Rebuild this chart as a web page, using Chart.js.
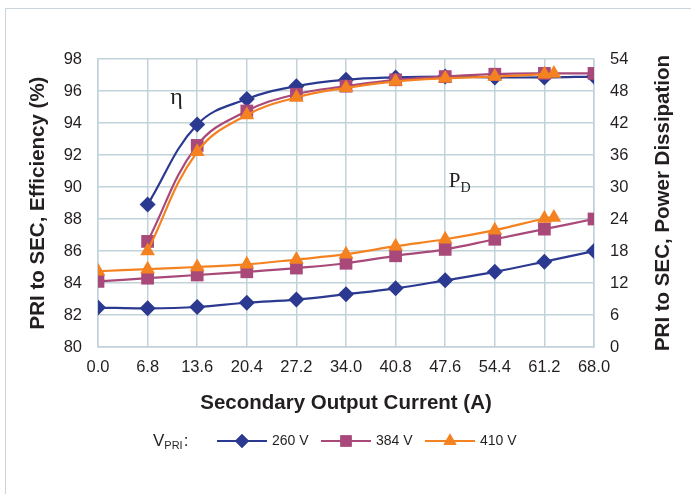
<!DOCTYPE html>
<html>
<head>
<meta charset="utf-8">
<script src="https://cdn.jsdelivr.net/npm/chart.js@4/dist/chart.umd.min.js"></script>
<style>
  html, body { margin: 0; padding: 0; background: #fff; }
  #wrap { position: relative; width: 691px; height: 494px; }
</style>
</head>
<body>
<div id="wrap"><canvas id="chart" width="691" height="494"></canvas></div>
<script>
// --- data ---
const xTicks = [0, 6.8, 13.6, 20.4, 27.2, 34.0, 40.8, 47.6, 54.4, 61.2, 68.0];
const effTicks = [80, 82, 84, 86, 88, 90, 92, 94, 96, 98];
const pdTicks = [0, 6, 12, 18, 24, 30, 36, 42, 48, 54];

const current = [0, 6.8, 13.6, 20.4, 27.2, 34.0, 40.8, 47.6, 54.4, 61.2, 68.0];
const current410 = [0, 6.8, 13.6, 20.4, 27.2, 34.0, 40.8, 47.6, 54.4, 61.2, 62.5];

// efficiency (%), left axis
const eff260 = [null, 88.9, 93.9, 95.5, 96.3, 96.7, 96.85, 96.9, 96.85, 96.85, 96.9];
const eff384 = [null, 86.6, 92.6, 94.75, 95.8, 96.3, 96.7, 96.9, 97.05, 97.1, 97.1];
const eff410 = [null, 86.0, 92.2, 94.5, 95.6, 96.2, 96.6, 96.8, 96.9, 97.05, 97.1];

// power dissipation (W), right axis
const pd260 = [7.4, 7.25, 7.5, 8.3, 8.9, 9.9, 11.0, 12.5, 14.1, 16.0, 18.0];
const pd384 = [12.3, 12.9, 13.5, 14.1, 14.8, 15.7, 17.1, 18.3, 20.2, 22.1, 24.0];
const pd410 = [14.2, 14.6, 15.0, 15.5, 16.4, 17.4, 18.9, 20.2, 21.9, 24.1, 24.3];

const seriesNames = ['260 V', '384 V', '410 V'];

// --- styling ---
const colors = ['#2b3990', '#a8497a', '#f58220'];
const markers = ['rectRot', 'rect', 'triangle'];
const markerRadius = [8, 9, 8.5];
const gridColor = '#c2d2d9';
const textColor = '#231f20';
const sans = '"Liberation Sans", Arial, sans-serif';
const serif = '"Liberation Serif", "Times New Roman", serif';

const toPoints = (xs, ys) => xs.map((x, i) => ({ x: x, y: ys[i] })).filter(p => p.y !== null);

const makeSet = (idx, xs, ys, axis) => ({
    label: seriesNames[idx],
    data: toPoints(xs, ys),
    yAxisID: axis,
    borderColor: colors[idx],
    backgroundColor: colors[idx],
    borderWidth: 2.2,
    tension: 0.4,
    pointStyle: markers[idx],
    pointRadius: markerRadius[idx],
    pointBorderWidth: 0,
    pointBackgroundColor: colors[idx],
    order: 2 - idx
});

const datasets = [
    makeSet(0, current, eff260, 'y'),
    makeSet(1, current, eff384, 'y'),
    makeSet(2, current410, eff410, 'y'),
    makeSet(0, current, pd260, 'y2'),
    makeSet(1, current, pd384, 'y2'),
    makeSet(2, current410, pd410, 'y2')
];

// extra drawing: outer frame, right axis title, annotations, legend
const extras = {
    id: 'extras',
    beforeDraw(chart) {
        const ctx = chart.ctx;
        ctx.save();
        ctx.strokeStyle = '#c9d4dc';
        ctx.lineWidth = 1;
        ctx.beginPath();
        ctx.moveTo(5.5, 494);
        ctx.lineTo(5.5, 8.5);
        ctx.lineTo(691, 8.5);
        ctx.stroke();
        ctx.restore();
    },
    afterDraw(chart) {
        const ctx = chart.ctx;
        const area = chart.chartArea;
        const xs = chart.scales.x, ys = chart.scales.y;
        ctx.save();

        // right axis title, reads bottom to top
        ctx.fillStyle = textColor;
        ctx.font = 'bold 20.5px ' + sans;
        ctx.textAlign = 'center';
        ctx.textBaseline = 'middle';
        ctx.translate(663, (area.top + area.bottom) / 2);
        ctx.rotate(-Math.PI / 2);
        ctx.fillText('PRI to SEC, Power Dissipation', 0, 0);
        ctx.setTransform(1, 0, 0, 1, 0, 0);

        // curve labels
        ctx.textAlign = 'left';
        ctx.textBaseline = 'alphabetic';
        ctx.font = '24px ' + serif;
        ctx.fillText('\u03b7', xs.getPixelForValue(9.9), ys.getPixelForValue(95.2));
        const px = xs.getPixelForValue(48.1), py = ys.getPixelForValue(90.0);
        ctx.font = '21px ' + serif;
        ctx.fillText('P', px, py);
        const pw = ctx.measureText('P').width;
        ctx.font = '14px ' + serif;
        ctx.fillText('D', px + pw, py + 5);

        // legend
        const ly = 441;
        ctx.textBaseline = 'middle';
        ctx.font = '17px ' + sans;
        ctx.fillText('V', 153, ly);
        const vw = ctx.measureText('V').width;
        ctx.font = '11px ' + sans;
        ctx.fillText('PRI', 153 + vw, ly + 5);
        const sw = ctx.measureText('PRI').width;
        ctx.font = '17px ' + sans;
        ctx.fillText(':', 153 + vw + sw + 1, ly);

        const starts = [217, 321, 425];
        seriesNames.forEach((name, i) => {
            const x0 = starts[i];
            ctx.strokeStyle = colors[i];
            ctx.lineWidth = 2.2;
            ctx.beginPath();
            ctx.moveTo(x0, ly);
            ctx.lineTo(x0 + 50, ly);
            ctx.stroke();
            ctx.fillStyle = colors[i];
            Chart.helpers.drawPoint(ctx, {
                pointStyle: markers[i],
                radius: markerRadius[i] - 1,
                borderWidth: 0,
                rotation: 0
            }, x0 + 25, ly);
            ctx.fill();
            ctx.fillStyle = textColor;
            ctx.font = '14px ' + sans;
            ctx.fillText(name, x0 + 55, ly);
        });
        ctx.restore();
    }
};

const tickFont = { family: sans, size: 16.5 };
const titleFont = { family: sans, size: 20.5, weight: 'bold' };

new Chart(document.getElementById('chart').getContext('2d'), {
    type: 'line',
    data: { datasets: datasets },
    options: {
        responsive: false,
        animation: false,
        devicePixelRatio: 1,
        layout: { padding: { left: 21.7, right: 9, top: 59, bottom: 74.7 } },
        plugins: { legend: { display: false }, tooltip: { enabled: false } },
        scales: {
            x: {
                type: 'linear',
                min: 0,
                max: 68,
                afterBuildTicks: s => { s.ticks = xTicks.map(v => ({ value: v })); },
                afterFit: s => { s.height = 72.3; },
                ticks: { font: tickFont, color: textColor, padding: 11, maxRotation: 0,
                         callback: v => Number(v).toFixed(1) },
                grid: { color: gridColor, lineWidth: 1.5, drawTicks: false },
                border: { color: gridColor, width: 1.5 },
                title: { display: true, text: 'Secondary Output Current (A)', font: titleFont, color: textColor }
            },
            y: {
                position: 'left',
                min: 80,
                max: 98,
                afterBuildTicks: s => { s.ticks = effTicks.map(v => ({ value: v })); },
                afterFit: s => { s.width = 76.3; },
                ticks: { font: tickFont, color: textColor, padding: 16 },
                grid: { color: gridColor, lineWidth: 1.5, drawTicks: false },
                border: { color: gridColor, width: 1.5 },
                title: { display: true, text: 'PRI to SEC, Efficiency (%)', font: titleFont, color: textColor }
            },
            y2: {
                position: 'right',
                min: 0,
                max: 54,
                afterBuildTicks: s => { s.ticks = pdTicks.map(v => ({ value: v })); },
                afterFit: s => { s.width = 88; },
                ticks: { font: tickFont, color: textColor, padding: 16 },
                grid: { display: false, drawTicks: false },
                border: { color: gridColor, width: 1.5 }
            }
        }
    },
    plugins: [extras]
});
</script>
</body>
</html>
